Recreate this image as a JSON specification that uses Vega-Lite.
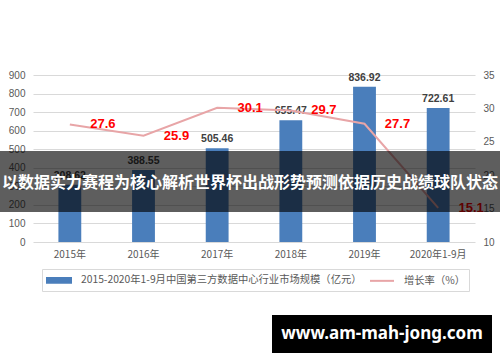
{
  "$schema": "https://vega.github.io/schema/vega-lite/v6.json",
  "width": 442,
  "height": 167,
  "autosize": {"type": "none"},
  "padding": {"left": 33, "top": 75, "right": 25, "bottom": 120},
  "background": "white",
  "config": {
    "view": {"stroke": null},
    "font": "Liberation Sans",
    "axis": {"labelColor": "#595959", "labelFontSize": 10, "domain": false, "ticks": false, "title": null, "zindex": 0, "labelFont": "Liberation Sans", "labelOverlap": false, "labelFlush": false}
  },
  "datasets": {
    "main": [
      {"year": "2015年", "value": 308.62, "rate": 27.6},
      {"year": "2016年", "value": 388.55, "rate": 25.9},
      {"year": "2017年", "value": 505.46, "rate": 30.1},
      {"year": "2018年", "value": 655.47, "rate": 29.7},
      {"year": "2019年", "value": 836.92, "rate": 27.7},
      {"year": "2020年1-9月", "value": 722.61, "rate": 15.1}
    ]
  },
  "resolve": {"scale": {"y": "independent"}},
  "layer": [
    {
      "data": {"name": "main"},
      "encoding": {
        "x": {"field": "year", "type": "nominal", "sort": null,
          "scale": {"paddingInner": 0.69, "paddingOuter": 0.345},
          "axis": {"labelAngle": 0, "labelPadding": 7, "labelFont": "Noto Sans CJK SC", "grid": false}},
        "y": {"field": "value", "type": "quantitative", "scale": {"domain": [0, 900]},
          "axis": {"orient": "left", "values": [0, 100, 200, 300, 400, 500, 600, 700, 800, 900], "grid": true, "gridColor": "#d9d9d9", "labelPadding": 8}}
      },
      "layer": [
        {
          "mark": {"type": "bar", "color": "#4a7ebb"},
          "encoding": {
            "color": {"datum": "2015-2020年1-9月中国第三方数据中心行业市场规模（亿元）", "type": "nominal",
              "scale": {"domain": ["2015-2020年1-9月中国第三方数据中心行业市场规模（亿元）", "增长率（%）"], "range": ["#4a7ebb", "#e8a5a7"]},
              "legend": {"orient": "none", "legendX": 9, "legendY": 194, "direction": "horizontal", "title": null,
                "strokeColor": "#d9d9d9", "padding": 4, "labelFontSize": 10.3, "labelFont": "Noto Sans CJK SC", "labelColor": "#595959", "labelLimit": 400,
                "symbolSize": 144, "symbolOffset": 6, "columnPadding": 4, "labelOffset": 15, "symbolType": "M-2,-0.4H2V0.4H-2Z",
                "encoding": {"symbols": {
                  "shape": {"condition": {"test": "datum.value === '增长率（%）'", "value": "M-2,0H2"}, "value": "M-2,-0.4H2V0.4H-2Z"},
                  "fill": {"condition": {"test": "datum.value === '增长率（%）'", "value": "transparent"}, "value": "#4a7ebb"},
                  "stroke": {"condition": {"test": "datum.value === '增长率（%）'", "value": "#e8a5a7"}, "value": "transparent"},
                  "strokeWidth": {"value": 2},
                  "opacity": {"value": 1}
                }}}}
          }
        },
        {
          "mark": {"type": "text", "baseline": "bottom", "dy": -4, "fontWeight": "bold", "fontSize": 10.5, "color": "#404040"},
          "encoding": {
            "text": {"field": "value", "type": "quantitative", "format": ".2f"}
          }
        }
      ]
    },
    {
      "data": {"name": "main"},
      "encoding": {
        "x": {"field": "year", "type": "nominal", "sort": null},
        "y": {"field": "rate", "type": "quantitative", "scale": {"domain": [10, 35]},
          "axis": {"orient": "right", "values": [10, 15, 20, 25, 30, 35], "grid": false, "labelPadding": 8}}
      },
      "layer": [
        {
          "mark": {"type": "line", "strokeWidth": 2},
          "encoding": {
            "color": {"datum": "增长率（%）", "type": "nominal"}
          }
        },
        {
          "mark": {"type": "text", "dx": 33, "baseline": "middle", "fontWeight": "bold", "fontSize": 13, "color": "#ff0000"},
          "encoding": {
            "text": {"field": "rate", "type": "quantitative", "format": ".1f"}
          }
        }
      ]
    },
    {
      "data": {"values": [{}]},
      "layer": [
        {
          "mark": {"type": "rect", "color": "black", "opacity": 0.63},
          "encoding": {"x": {"value": -33}, "x2": {"value": 467}, "y": {"value": 76}, "y2": {"value": 137}}
        },
        {
          "mark": {"type": "text", "color": "white", "fontWeight": "bold", "fontSize": 16, "font": "Noto Sans CJK SC", "align": "center", "baseline": "middle"},
          "encoding": {"x": {"value": 217}, "y": {"value": 108}, "text": {"value": "以数据实力赛程为核心解析世界杯出战形势预测依据历史战绩球队状态"}}
        },
        {
          "mark": {"type": "rect", "color": "black", "opacity": 1},
          "encoding": {"x": {"value": 239}, "x2": {"value": 459}, "y": {"value": 240}, "y2": {"value": 278}}
        },
        {
          "mark": {"type": "text", "color": "white", "fontWeight": "bold", "fontSize": 17, "font": "Noto Sans", "align": "center", "baseline": "middle"},
          "encoding": {"x": {"value": 349}, "y": {"value": 259}, "text": {"value": "www.am-mah-jong.com"}}
        }
      ]
    }
  ]
}
